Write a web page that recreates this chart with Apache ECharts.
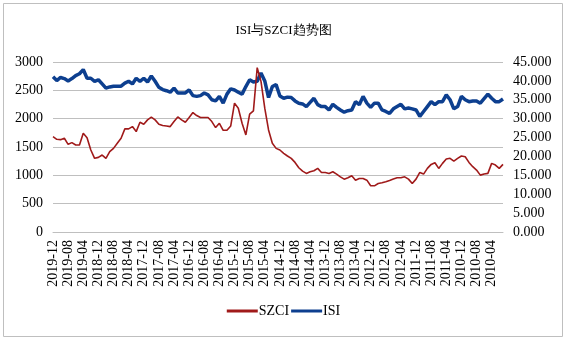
<!DOCTYPE html>
<html>
<head>
<meta charset="utf-8">
<script src="https://cdn.jsdelivr.net/npm/echarts@6/dist/echarts.min.js"></script>
<style>
  html, body { margin: 0; padding: 0; background: #fff; }
  #myEchart1 { width: 567px; height: 342px; }
</style>
</head>
<body>
<div id="myEchart1"></div>
<script>
// 月份：2019-12 倒序到 2010-01
var months = [];
for (var k = 0; k < 120; k++) {
  var y = 2019 - Math.floor(k / 12);
  var m = 12 - (k % 12);
  months.push(y + '-' + (m < 10 ? '0' + m : m));
}

var szci = [
  1683, 1636, 1630, 1654, 1547, 1577, 1535, 1535, 1742, 1665,
  1447, 1300, 1317, 1358, 1300, 1417, 1476, 1565, 1654, 1819,
  1819, 1860, 1772, 1937, 1902, 1979, 2026, 1979, 1902, 1878,
  1870, 1860, 1949, 2031, 1979, 1937, 2020, 2108, 2055, 2020,
  2020, 2020, 1949, 1843, 1919, 1795, 1795, 1872, 2274, 2185,
  1919, 1713, 2079, 2138, 2900, 2658, 2185, 1801, 1565, 1476,
  1447, 1388, 1341, 1300, 1228, 1134, 1075, 1034, 1063, 1081,
  1122, 1051, 1051, 1034, 1063, 1022, 974, 933, 957, 992,
  915, 945, 945, 915, 815, 815, 856, 868, 886, 910,
  935, 957, 957, 974, 933, 856, 933, 1051, 1022, 1122,
  1193, 1223, 1122, 1211, 1287, 1300, 1252, 1300, 1341, 1329,
  1228, 1152, 1093, 1004, 1022, 1034, 1211, 1181, 1122, 1193
];

var isi = [
  41.1, 40.1, 40.9, 40.6, 40.0, 40.6, 41.4, 41.9, 43.0, 40.7,
  40.7, 39.9, 40.3, 39.2, 38.1, 38.4, 38.6, 38.6, 38.6, 39.4,
  39.9, 39.2, 40.7, 39.9, 40.7, 39.7, 41.3, 39.9, 38.3, 37.7,
  37.4, 37.0, 38.1, 36.8, 36.8, 36.8, 37.6, 36.1, 35.9, 36.1,
  36.8, 36.3, 35.0, 34.7, 35.9, 34.1, 36.5, 37.9, 37.6, 37.0,
  36.5, 38.5, 40.3, 39.7, 39.9, 42.1, 40.0, 35.6, 38.5, 39.0,
  36.0, 35.4, 35.7, 35.6, 34.7, 34.1, 33.9, 33.2, 34.3, 35.4,
  33.7, 33.2, 33.2, 32.3, 33.8, 33.0, 32.3, 31.7, 32.1, 32.3,
  34.5, 33.7, 35.9, 34.1, 33.0, 34.1, 34.1, 32.3, 31.9, 31.4,
  32.6, 33.2, 33.8, 32.6, 32.8, 32.6, 32.3, 30.6, 31.9, 33.2,
  34.5, 33.7, 34.5, 34.5, 36.3, 35.0, 32.6, 33.2, 35.9, 35.0,
  34.5, 34.7, 34.7, 34.1, 35.3, 36.5, 35.4, 34.5, 34.5, 35.2
];

var leftTicks = { min: 0, max: 3000, interval: 500 };
var rightTicks = { min: 0, max: 45, interval: 5 };

var font = 'Liberation Serif';
var myChart = echarts.init(document.getElementById('myEchart1'));
var option = {
  animation: false,
  backgroundColor: '#fff',
  textStyle: { fontFamily: font, color: '#000' },
  graphic: [{
    type: 'rect',
    shape: { x: 3.5, y: 3.5, width: 559, height: 333 },
    style: { fill: 'none', stroke: '#bfbfbf', lineWidth: 1 },
    silent: true
  }],
  title: {
    text: 'ISI与SZCI趋势图',
    left: 'center',
    top: 19,
    textStyle: { fontFamily: font, fontSize: 13, fontWeight: 'normal', color: '#000' }
  },
  legend: {
    bottom: 19,
    left: 'center',
    icon: 'rect',
    itemWidth: 31,
    itemHeight: 3,
    itemGap: 2,
    data: ['SZCI', 'ISI'],
    textStyle: { fontFamily: font, fontSize: 14, color: '#000', padding: [0, 0, 0, -4] }
  },
  grid: { left: 53, right: 64, top: 62, bottom: 110 },
  xAxis: {
    type: 'category',
    boundaryGap: false,
    data: months,
    axisLine: { lineStyle: { color: '#bfbfbf', width: 1 } },
    axisTick: { show: false },
    axisLabel: {
      interval: 3,
      rotate: 90,
      margin: 8,
      fontFamily: font,
      fontSize: 14,
      color: '#000'
    }
  },
  yAxis: [{
    type: 'value',
    min: leftTicks.min,
    max: leftTicks.max,
    interval: leftTicks.interval,
    axisLine: { show: false },
    axisTick: { show: false },
    splitLine: { lineStyle: { color: '#bfbfbf', width: 1 } },
    axisLabel: {
      fontFamily: font, fontSize: 14, color: '#000', margin: 10,
      formatter: function (v) { return String(v); }
    }
  }, {
    type: 'value',
    min: rightTicks.min,
    max: rightTicks.max,
    interval: rightTicks.interval,
    axisLine: { show: false },
    axisTick: { show: false },
    splitLine: { show: false },
    axisLabel: {
      fontFamily: font, fontSize: 14, color: '#000', margin: 10,
      formatter: function (v) { return v.toFixed(3); }
    }
  }],
  series: [{
    name: 'ISI',
    type: 'line',
    yAxisIndex: 1,
    data: isi,
    symbol: 'none',
    lineStyle: { color: '#0d3f8f', width: 3.5 },
    itemStyle: { color: '#0d3f8f' },
    z: 2
  }, {
    name: 'SZCI',
    type: 'line',
    yAxisIndex: 0,
    data: szci,
    symbol: 'none',
    lineStyle: { color: '#a01a1a', width: 1.6 },
    itemStyle: { color: '#a01a1a' },
    z: 3
  }]
};
option && myChart.setOption(option);
window.addEventListener('resize', function () { myChart.resize(); });
</script>
</body>
</html>
